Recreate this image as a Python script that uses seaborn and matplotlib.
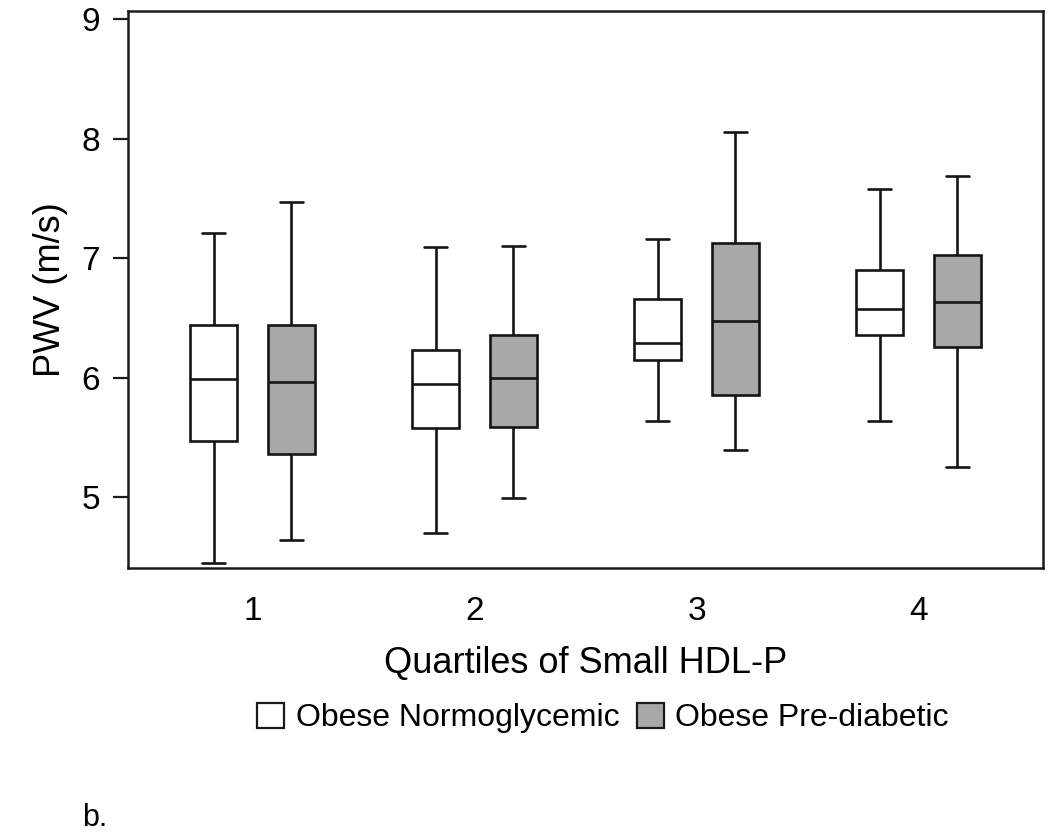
import numpy as np
import pandas as pd
import matplotlib
matplotlib.use("Agg")
import matplotlib.pyplot as plt
import matplotlib.patches as mpatches
import seaborn as sns

# ---- data ----
quartiles = ["1", "2", "3", "4"]
groups = ["Obese Normoglycemic", "Obese Pre-diabetic"]
# five-number summaries: [whisker low, Q1, median, Q3, whisker high]
normo_stats = [
    [4.45, 5.47, 5.99, 6.44, 7.21],
    [4.70, 5.58, 5.95, 6.23, 7.09],
    [5.64, 6.15, 6.29, 6.66, 7.16],
    [5.64, 6.36, 6.57, 6.90, 7.58],
]
prediab_stats = [
    [4.64, 5.36, 5.96, 6.44, 7.47],
    [4.99, 5.59, 6.00, 6.36, 7.10],
    [5.39, 5.85, 6.47, 7.13, 8.06],
    [5.25, 6.26, 6.63, 7.03, 7.69],
]
yticks = [5, 6, 7, 8, 9]
ylabel = "PWV (m/s)"
xlabel = "Quartiles of Small HDL-P"
panel_label = "b."

fill_colors = {"Obese Normoglycemic": "#ffffff", "Obese Pre-diabetic": "#a8a8a8"}

rows = []
for q, s in zip(quartiles, normo_stats):
    for v in s:
        rows.append({"quartile": q, "group": groups[0], "pwv": v})
for q, s in zip(quartiles, prediab_stats):
    for v in s:
        rows.append({"quartile": q, "group": groups[1], "pwv": v})
df = pd.DataFrame(rows)

sns.set_theme(style="white")
plt.rcParams["font.family"] = ["Liberation Sans", "DejaVu Sans"]
plt.rcParams["text.color"] = "black"
plt.rcParams["axes.labelcolor"] = "black"
plt.rcParams["xtick.color"] = "black"
plt.rcParams["ytick.color"] = "black"

fig = plt.figure(figsize=(10.5, 8.36), dpi=100)
ax = fig.add_axes([128 / 1050, 1 - 568 / 836, (1043 - 128) / 1050, (568 - 11) / 836])

sns.boxplot(
    data=df, x="quartile", y="pwv", hue="group",
    order=quartiles, hue_order=groups,
    palette=fill_colors, whis=(0, 100), width=0.7, gap=0.4,
    linecolor="#151515", linewidth=1.9, fliersize=0, legend=False,
    saturation=1, ax=ax,
)

ax.set_xlim(-0.56, 3.56)
ax.set_ylim(4.405, 9.07)
ax.set_yticks(yticks)
ax.set_yticklabels([str(t) for t in yticks])
ax.tick_params(axis="y", length=11, width=1.6, color="#1a1a1a", pad=9, labelsize=24,
               left=True, labelcolor="black")
ax.tick_params(axis="x", length=0, pad=20, labelsize=24, labelcolor="black")
for sp in ax.spines.values():
    sp.set_visible(True)
    sp.set_color("#1a1a1a")
    sp.set_linewidth(1.8)

ax.set_ylabel(ylabel, fontsize=26, labelpad=10, color="black")
ax.set_xlabel(xlabel, fontsize=26, labelpad=14, color="black")

handles = [mpatches.Patch(facecolor=fill_colors[g], edgecolor="#1a1a1a", linewidth=1.6, label=g)
           for g in groups]
fig.legend(handles=handles, loc="center", bbox_to_anchor=(603 / 1050, 1 - 718 / 836),
           ncol=2, frameon=False, fontsize=23, handlelength=0.85, handleheight=0.85,
           handletextpad=0.35, columnspacing=0.55, borderpad=0, labelcolor="black")

fig.text(82 / 1050, 0.012, panel_label, fontsize=22, ha="left", va="baseline", color="black")

fig.savefig("out.png", dpi=100, facecolor="white")
